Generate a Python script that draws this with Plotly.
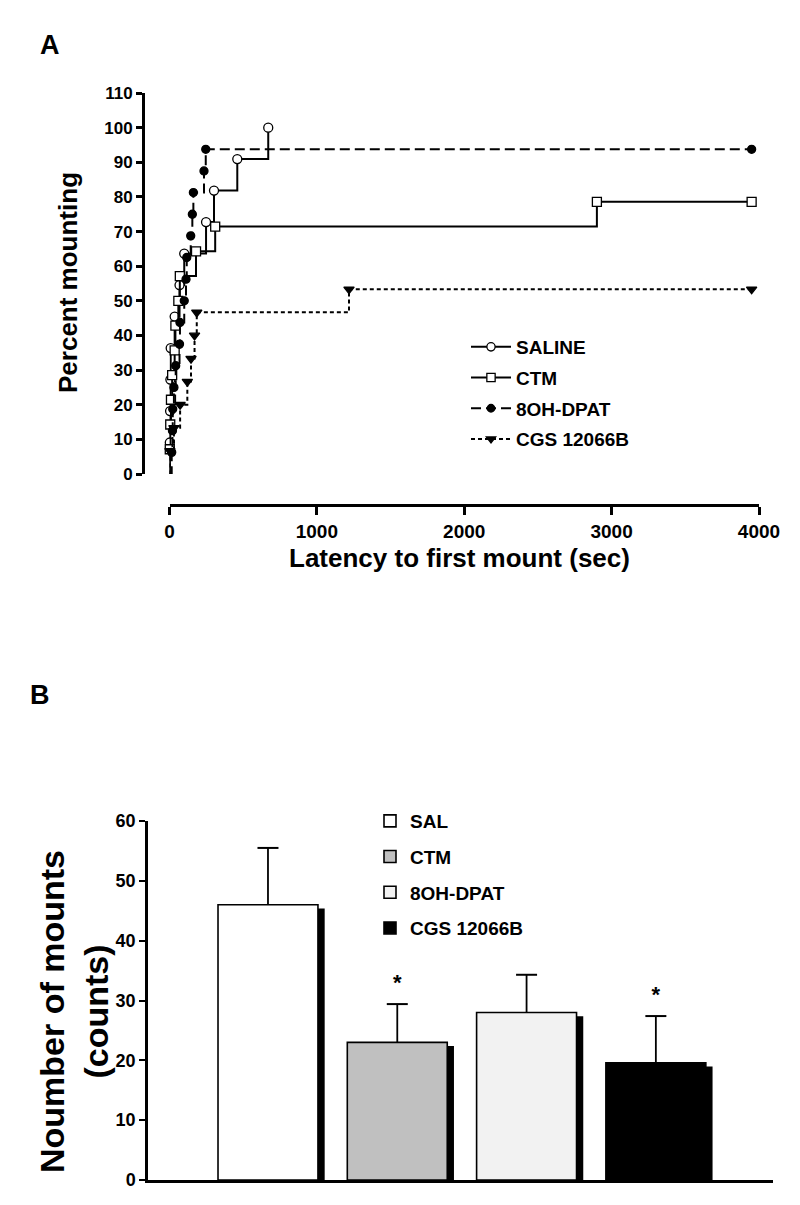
import plotly.graph_objects as go

W, H = 800, 1205
PAGE_OFFSET = 8  # the page body margin shifts the figure by 8px

# ---------------- Panel A: cumulative percent mounting ----------------
series_names = ["SALINE", "CTM", "8OH-DPAT", "CGS 12066B"]
saline_t = [0, 2, 4, 6, 8, 35, 68, 100, 248, 302, 460, 670]
saline_p = [0, 9.09, 18.18, 27.27, 36.36, 45.45, 54.55, 63.64, 72.73, 81.82, 90.91, 100]
ctm_t = [0, 2, 5, 10, 18, 35, 40, 60, 70, 180, 310, 2900, 3950]
ctm_p = [0, 7.14, 14.29, 21.43, 28.57, 35.71, 42.86, 50.0, 57.14, 64.29, 71.43, 78.57, 78.57]
dpat_t = [0, 15, 20, 22, 30, 42, 68, 71, 100, 112, 117, 144, 155, 162, 234, 246, 3950]
dpat_p = [0, 6.25, 12.5, 18.75, 25.0, 31.25, 37.5, 43.75, 50.0, 56.25, 62.5, 68.75, 75.0, 81.25, 87.5, 93.75, 93.75]
cgs_t = [0, 3, 30, 72, 121, 146, 170, 185, 1218, 3950]
cgs_p = [0, 6.67, 13.33, 20.0, 26.67, 33.33, 40.0, 46.67, 53.33, 53.33]
x_ticks_a = [0, 1000, 2000, 3000, 4000]
y_ticks_a = list(range(0, 111, 10))

# ---------------- Panel B: number of mounts ----------------
groups = ["SAL", "CTM", "8OH-DPAT", "CGS 12066B"]
means = [46.0, 23.0, 28.0, 19.6]
err_top = [55.5, 29.4, 34.3, 27.4]
stars = ["", "*", "", "*"]
bar_fills = ["#ffffff", "#c0c0c0", "#f2f2f2", "#000000"]
y_ticks_b = list(range(0, 61, 10))

REG = "Liberation Sans, Arial, sans-serif"


def px_x(p):
    return (p - PAGE_OFFSET) / W


def px_y(p):
    return 1 - (p - PAGE_OFFSET) / H


fig = go.Figure()

styles = [
    dict(dash="solid", symbol="circle", fill="white", size=9),
    dict(dash="solid", symbol="square", fill="white", size=9),
    dict(dash="10px,5px", symbol="circle", fill="black", size=8),
    dict(dash="4px,3px", symbol="triangle-down", fill="black", size=9),
]
for name, t, p, st in zip(series_names, [saline_t, ctm_t, dpat_t, cgs_t],
                          [saline_p, ctm_p, dpat_p, cgs_p], styles):
    sizes = [0] + [st["size"]] * (len(t) - 1)
    fig.add_trace(go.Scatter(
        x=t, y=p, name=name, mode="lines+markers", line_shape="hv",
        line=dict(color="black", width=2, dash=st["dash"]),
        marker=dict(symbol=st["symbol"], size=sizes, color=st["fill"], opacity=1,
                    line=dict(color="black", width=1.3)),
        cliponaxis=False, xaxis="x", yaxis="y", legendgroup=name, legend="legend",
    ))

# Panel B bars (shadow first, then the bar itself)
bw = 0.773
for i, (g, m, fc) in enumerate(zip(groups, means, bar_fills)):
    fig.add_trace(go.Bar(
        x=[i], y=[m - 0.62], width=[bw], offset=[-bw / 2 + 0.052],
        marker=dict(color="black", line=dict(width=0)),
        showlegend=False, hoverinfo="skip", xaxis="x2", yaxis="y2",
    ))
    fig.add_trace(go.Bar(
        x=[i], y=[m], width=[bw], offset=[-bw / 2], name=g,
        marker=dict(color=fc, line=dict(color="black", width=1.6)),
        xaxis="x2", yaxis="y2", legendgroup=g, legend="legend2",
    ))

# upward-only error bars: stem + cap
stem_x, stem_y = [], []
for i, (m, e) in enumerate(zip(means, err_top)):
    stem_x += [i, i, None]
    stem_y += [m, e, None]
fig.add_trace(go.Scatter(
    x=stem_x, y=stem_y, mode="lines", line=dict(color="black", width=1.8),
    showlegend=False, hoverinfo="skip", xaxis="x2", yaxis="y2", cliponaxis=False,
))
fig.add_trace(go.Scatter(
    x=list(range(len(groups))), y=err_top, mode="markers",
    marker=dict(symbol="line-ew", size=15, line=dict(color="black", width=2)),
    showlegend=False, hoverinfo="skip", xaxis="x2", yaxis="y2", cliponaxis=False,
))

star_x = [i for i, s in enumerate(stars) if s]
star_y = [err_top[i] + 3.2 for i in star_x]
fig.add_trace(go.Scatter(
    x=star_x, y=star_y, text=[stars[i] for i in star_x], mode="text",
    textfont=dict(family=REG, size=22, color="black", weight="bold"),
    showlegend=False, cliponaxis=False, xaxis="x2", yaxis="y2",
))

axis_common = dict(showgrid=False, zeroline=False, showline=True, linecolor="black",
                   ticks="outside", tickcolor="black")


def ann_font(s):
    return dict(family=REG, size=s, color="black", weight="bold")


fig.update_layout(
    width=W, height=H, margin=dict(l=0, r=0, t=0, b=0, autoexpand=False),
    paper_bgcolor="white", plot_bgcolor="white", barmode="overlay",
    xaxis=dict(**axis_common, domain=[px_x(169.5), px_x(759)], range=[0, 4000],
               anchor="free", position=px_y(505), tickvals=x_ticks_a,
               linewidth=3, tickwidth=3, ticklen=8,
               tickfont=ann_font(19)),
    yaxis=dict(**axis_common, domain=[px_y(474), px_y(93)], range=[0, 110],
               anchor="free", position=px_x(143), tickvals=y_ticks_a,
               linewidth=3, tickwidth=2.5, ticklen=6,
               tickfont=ann_font(17)),
    xaxis2=dict(**{**axis_common, "ticks": ""}, domain=[px_x(148), px_x(773)],
                range=[-0.928, 3.906], anchor="y2", showticklabels=False,
                linewidth=2.5),
    yaxis2=dict(**axis_common, domain=[px_y(1180), px_y(821)], range=[0, 60],
                anchor="x2", tickvals=y_ticks_b, linewidth=2.5, tickwidth=2,
                ticklen=6, tickfont=ann_font(18)),
    legend=dict(x=px_x(466), y=px_y(328), xanchor="left", yanchor="top",
                itemwidth=40, tracegroupgap=3, bgcolor="rgba(0,0,0,0)",
                font=ann_font(19)),
    legend2=dict(x=px_x(370), y=px_y(802), xanchor="left", yanchor="top",
                 itemwidth=30, tracegroupgap=8, bgcolor="rgba(0,0,0,0)",
                 font=ann_font(19)),
    annotations=[
        dict(text="A", x=px_x(50), y=px_y(45), xref="paper", yref="paper",
             xanchor="center", yanchor="middle", showarrow=False, font=ann_font(27)),
        dict(text="B", x=px_x(40), y=px_y(695), xref="paper", yref="paper",
             xanchor="center", yanchor="middle", showarrow=False, font=ann_font(27)),
        dict(text="Percent mounting", x=px_x(68), y=px_y(283), xref="paper", yref="paper",
             xanchor="center", yanchor="middle", textangle=-90, showarrow=False,
             font=ann_font(26)),
        dict(text="Latency to first mount (sec)", x=px_x(460), y=px_y(558),
             xref="paper", yref="paper", xanchor="center", yanchor="middle",
             showarrow=False, font=ann_font(26)),
        dict(text="Noumber of mounts<br>(counts)", x=px_x(74), y=px_y(1012),
             xref="paper", yref="paper", xanchor="center", yanchor="middle",
             textangle=-90, showarrow=False, font=ann_font(34)),
    ],
)

fig.write_html("out.html")
